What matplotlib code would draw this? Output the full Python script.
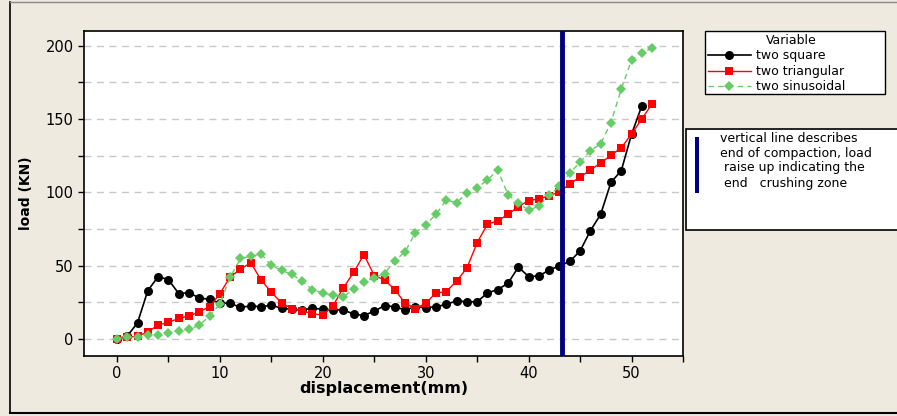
import numpy as np
import matplotlib
matplotlib.use("Agg")
import matplotlib.pyplot as plt
from matplotlib.patches import Rectangle
from matplotlib.lines import Line2D

# valores (desplazamiento en mm, carga en KN)
x_square = list(range(0, 52))
square = [0, 2, 11, 33, 42.5, 40.5, 31, 31.5, 28, 27, 24.5, 24.3, 21.6, 22.5, 22, 23,
          21, 20.2, 19.8, 21, 20.2, 19.8, 19.8, 17, 16, 19, 22.7, 22, 19.8, 22, 21.3, 22,
          23.6, 26, 25.4, 25.4, 31.4, 33.7, 38, 49, 42.6, 43, 47, 49.9, 52.9, 60, 73.8, 85,
          106.8, 114.7, 139.6, 159]

x_triang = list(range(0, 53))
triang = [0, 1.2, 1.8, 4.8, 9.5, 11.3, 14, 15.8, 18.4, 22, 30.8, 42.4, 47.5, 52, 40.3, 31.9,
          24.6, 20.7, 19.1, 17.2, 16.3, 22.8, 34.9, 45.4, 57.6, 43.2, 40.3, 33.7, 24.4, 20.7,
          24.4, 31.4, 32.2, 39.6, 48.3, 65.7, 78.3, 80.5, 85, 90.2, 94.4, 95.5, 97.6, 100.4,
          105.7, 110.5, 115.2, 120, 125.2, 130.4, 139.7, 150.1, 160.4]

x_sinus = list(range(0, 53))
sinus = [0, 1.4, 1.6, 2.5, 2.9, 4.3, 5.5, 6.6, 9.3, 15.8, 24, 42.1, 54.9, 56.3, 58, 50.2,
         46.8, 44, 39.5, 33.6, 31.4, 29.8, 28.8, 33.9, 38.7, 41.8, 44.6, 53.4, 59.4, 72.6,
         78, 84.9, 94.8, 92.9, 99.6, 103.1, 108.4, 115.3, 98.3, 92.9, 87.7, 90.7, 98, 104,
         113.2, 120.5, 128.5, 132.9, 147.6, 170.3, 190.2, 195.3, 198.2]

x_compaction = 43.2

series_names = ["two square", "two triangular", "two sinusoidal"]
note_lines = ["vertical line describes", "end of compaction, load",
              " raise up indicating the", " end   crushing zone"]

bg = "#EEEADF"
W, H = 897, 416
fig = plt.figure(figsize=(8.97, 4.16), dpi=100, facecolor=bg)

# marco exterior
fig.add_artist(Line2D([10 / W, 10 / W], [1 - 413 / H, 1 - 2 / H], transform=fig.transFigure,
                      color="black", lw=1.2))
fig.add_artist(Line2D([10 / W, 1.0], [1 - 413 / H, 1 - 413 / H], transform=fig.transFigure,
                      color="black", lw=1.5))
fig.add_artist(Line2D([10 / W, 1.0], [1 - 2 / H, 1 - 2 / H], transform=fig.transFigure,
                      color="#888888", lw=1.0))

ax = fig.add_axes([84 / W, 1 - 356 / H, (683 - 84) / W, (356 - 31) / H])
ax.set_facecolor("white")

ax.plot(x_square, square, color="black", lw=1.2, marker="o", ms=6.5,
        markeredgewidth=0, label=series_names[0], zorder=3)
ax.plot(x_triang, triang, color="#FF0000", lw=1.0, marker="s", ms=6,
        markeredgewidth=0, label=series_names[1], zorder=4)
ax.plot(x_sinus, sinus, color="#66CC66", lw=1.0, ls=(0, (4, 3)), marker="D", ms=5.5,
        markeredgewidth=0, label=series_names[2], zorder=5)

ax.axvline(x_compaction, color="#000080", lw=3.5, zorder=6)

ax.set_xlim(-3.2, 55)
ax.set_ylim(-11.6, 210)
ax.set_xticks(np.arange(0, 51, 10))
ax.set_xticks(np.arange(0, 56, 5), minor=True)
ax.set_yticks(np.arange(0, 201, 50))
ax.set_yticks(np.arange(0, 201, 25), minor=True)
for y in np.arange(0, 201, 25):
    ax.axhline(y, color="#C8C8C8", lw=1.0, ls=(0, (5, 4)), zorder=1)
ax.tick_params(which="both", direction="out", length=4, width=1, labelsize=10.5)
for s in ax.spines.values():
    s.set_linewidth(1.2)

ax.set_xlabel("displacement(mm)", fontsize=11.5, fontweight="bold", labelpad=0)
ax.set_ylabel("load (KN)", fontsize=10, fontweight="bold", labelpad=9)

# leyenda con marco propio
fig.add_artist(Rectangle((705 / W, 1 - 94 / H), (885 - 705) / W, (94 - 31) / H,
                         transform=fig.transFigure, facecolor="white", edgecolor="black",
                         lw=1.0))
fig.text(766 / W, 1 - 41 / H, "Variable", fontsize=9, va="center", ha="left")
leg = fig.legend(loc="upper left", bbox_to_anchor=(705 / W, 1 - 47 / H),
                 fontsize=9, frameon=False,
                 borderpad=0.2, labelspacing=0.2, handlelength=3.5,
                 handletextpad=0.4, borderaxespad=0)

# cuadro con la nota
fig.add_artist(Rectangle((686 / W, 1 - 230 / H), 1.0, (230 - 129) / H,
                         transform=fig.transFigure, facecolor="white", edgecolor="black",
                         lw=1.2))
fig.add_artist(Rectangle((695 / W, 1 - 193 / H), 4 / W, 56 / H,
                         transform=fig.transFigure, facecolor="#000080", edgecolor="none"))
for i, t in enumerate(note_lines):
    fig.text(720 / W, 1 - (138 + 15 * i) / H, t, fontsize=9, va="center", ha="left")

plt.savefig("out.png", dpi=100, facecolor=bg)
